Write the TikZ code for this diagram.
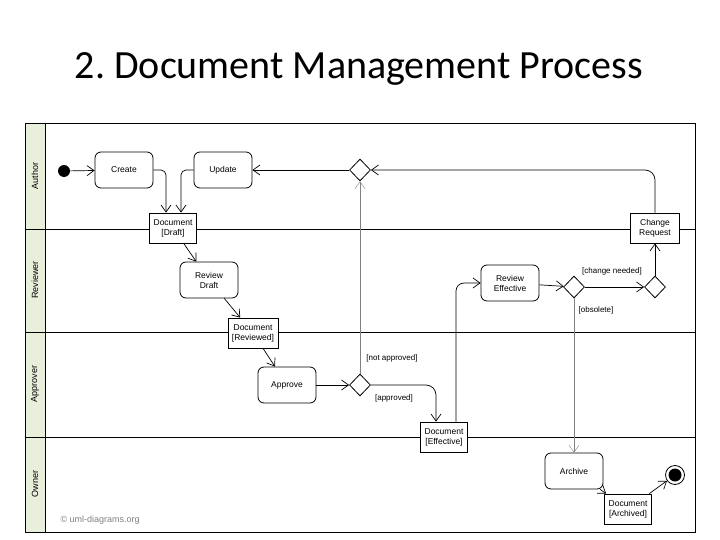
\documentclass[tikz,border=0pt]{standalone}
\usepackage{fontspec}
\setmainfont{Liberation Sans}
\newfontfamily\titlefont{Carlito}
\usetikzlibrary{arrows.meta,shapes.geometric}
\begin{document}
\begin{tikzpicture}[x=1pt,y=-1pt,
  act/.style={draw,line width=0.8pt,rounded corners=6pt,minimum width=58pt,minimum height=36pt,align=center,font=\fontsize{8.5}{10}\selectfont},
  obj/.style={draw,line width=0.8pt,fill=white,minimum width=47pt,minimum height=30pt,inner sep=1pt,align=center,font=\fontsize{8.5}{10}\selectfont},
  dec/.style={draw,line width=0.8pt,diamond,minimum width=21pt,minimum height=22pt,inner sep=0pt},
  fl/.style={draw,-{Straight Barb[length=7pt,width=10pt]},line width=0.7pt},
  thin/.style={fl,draw=gray,line width=0.4pt},
  lab/.style={font=\fontsize{8}{9}\selectfont},
  lane/.style={rotate=90,font=\fontsize{9}{10}\selectfont}]
\useasboundingbox (0,0) rectangle (720,540);
\node[font=\titlefont\fontsize{40}{46}\selectfont] (title) at (359,69) {2.~Document Management Process};
\fill[fill={rgb,255:red,232;green,240;blue,220}] (25,123) rectangle (45,532);
\draw[line width=0.9pt] (25,123) rectangle (695,532);
\draw[line width=0.7pt] (45,123) -- (45,532);
\draw[line width=0.8pt] (25,229) -- (695,229);
\draw[line width=0.5pt] (25,332) -- (695,332);
\draw[line width=0.5pt] (25,437) -- (695,437);
\node[lane] (la) at (35,176) {Author};
\node[lane] (lr) at (35,280) {Reviewer};
\node[lane] (lp) at (35,384) {Approver};
\node[lane] (lo) at (35,484) {Owner};
\node[circle,fill=black,minimum size=12pt,inner sep=0] (start) at (64,171) {};
\node[act] (create) at (124,170) {Create};
\node[act] (update) at (223,170) {Update};
\node[obj] (draft) at (173,228) {Document\\{[Draft]}};
\node[act] (rdraft) at (209,280) {Review\\Draft};
\node[obj,minimum width=50pt] (revd) at (253,333) {Document\\{[Reviewed]}};
\node[act] (approve) at (287,385) {Approve};
\node[dec] (d2) at (360,385) {};
\node[dec] (d1) at (360,170) {};
\node[obj] (eff) at (444,437) {Document\\{[Effective]}};
\node[act] (reff) at (510,283) {Review\\Effective};
\node[dec] (d3) at (574,287) {};
\node[dec] (d4) at (655,287) {};
\node[obj,minimum width=49pt] (cr) at (655,228) {Change\\Request};
\node[act] (archive) at (574,471) {Archive};
\node[obj] (arch) at (628,509) {Document\\{[Archived]}};
\node[circle,draw,line width=0.8pt,minimum size=19pt,inner sep=0] (end) at (675,475) {};
\fill (end.center) circle (6.5pt);
\node[gray,font=\fontsize{9}{10}\selectfont,anchor=west] (copy) at (57,520) {\copyright\ uml-diagrams.org};
\draw[fl] (start) -- (create);
\draw[fl,rounded corners=5pt] (create.east) -| ([xshift=-7pt]draft.north);
\draw[fl,rounded corners=5pt] (update.west) -| ([xshift=8pt]draft.north);
\draw[fl] (draft) -- (rdraft);
\draw[fl] (rdraft) -- (revd);
\draw[fl] (revd) -- (approve);
\draw[fl] (approve) -- (d2);
\draw[fl,rounded corners=10pt] (d2.east) -| ([xshift=-8pt]eff.north);
\node[lab] (lapp) at (394,398) {[approved]};
\draw[thin] (d2.north) -- (d1.south);
\node[lab] (lnapp) at (392,358) {[not approved]};
\draw[fl] (d1.west) -- (update.east);
\draw[fl,rounded corners=8pt] ([xshift=12pt]eff.north) |- (reff.west);
\draw[fl] (reff) -- (d3);
\draw[fl] (d3) -- (d4);
\node[lab] (lch) at (612,271) {[change needed]};
\draw[fl] (d4) -- (cr);
\draw[fl,rounded corners=10pt] (cr.north) |- (d1.east);
\draw[thin] (d3.south) -- (archive.north);
\node[lab] (lobs) at (596,310) {[obsolete]};
\draw[fl] (archive) -- (arch);
\draw[fl] (arch) -- (end);
\end{tikzpicture}
\end{document}
